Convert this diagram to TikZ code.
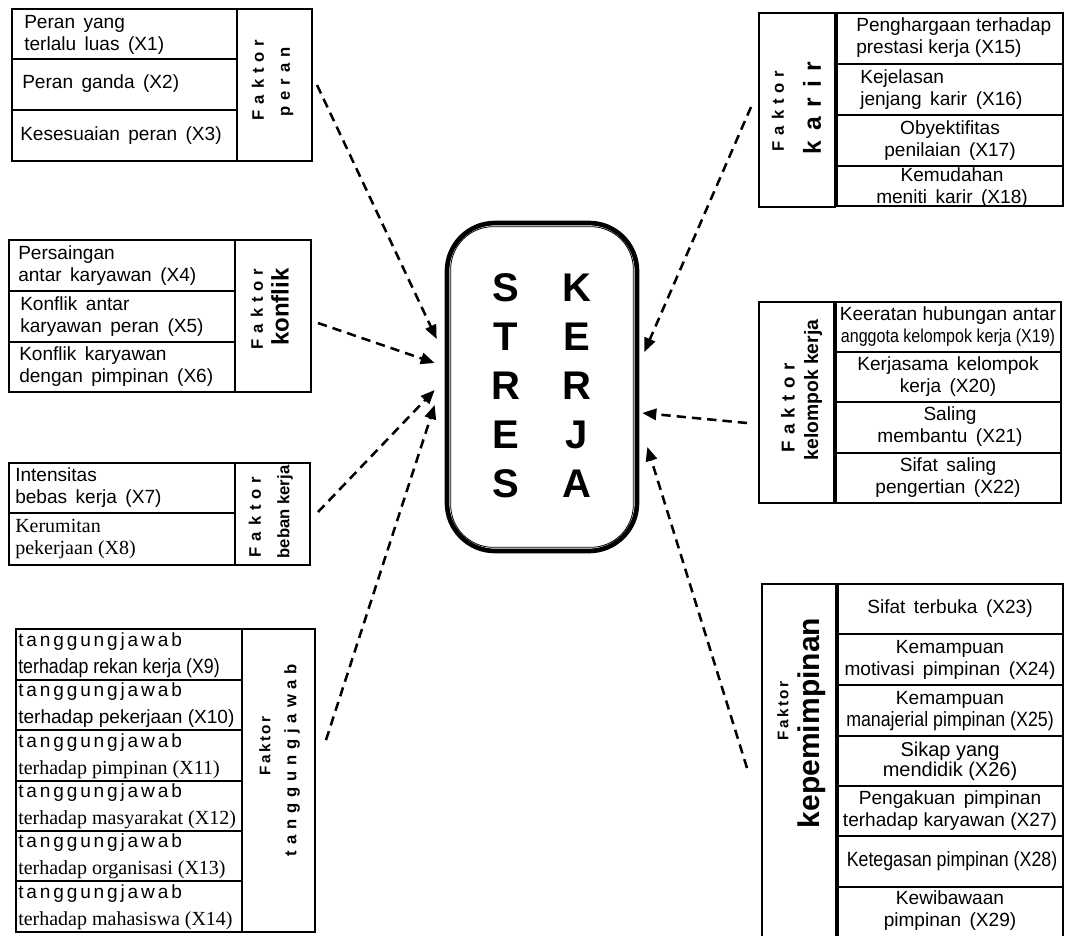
\documentclass[tikz,border=0pt]{standalone}
\usepackage{fontspec}
\setmainfont{Liberation Sans}[WordSpace=1.6]
\newfontfamily\plainfont{Liberation Sans}
\newfontfamily\timesfont{Liberation Serif}
\newfontfamily\narrowfont[FakeStretch=0.86]{Liberation Sans}
\newfontfamily\lsfont[LetterSpace=15]{Liberation Sans}
\newfontfamily\faktorfont[LetterSpace=35, BoldFont={Liberation Sans Bold}]{Liberation Sans}
\newfontfamily\karirfont[LetterSpace=40, BoldFont={Liberation Sans Bold}]{Liberation Sans}
\usetikzlibrary{arrows.meta,positioning,calc}

\tikzset{
    box/.style={draw, line width=0.8pt},
    item/.style={inner sep=0pt, align=left, font=\fontsize{14.3}{16.5}\selectfont},
    itemc/.style={item, align=center},
    tjitem/.style={item, anchor=west, font=\fontsize{14.3}{20}\selectfont},
    faktor/.style={rotate=90, inner sep=0pt, font=\faktorfont\bfseries\fontsize{12.5}{14}\selectfont},
    faktorkecil/.style={rotate=90, inner sep=0pt, font=\lsfont\bfseries\fontsize{11.5}{13}\selectfont},
    jenis/.style={rotate=90, inner sep=0pt, font=\plainfont\bfseries\fontsize{#1}{#1}\selectfont},
    arr/.style={line width=1.9pt, dash pattern=on 7pt off 4.5pt, -{Triangle[length=10.5pt,width=8.5pt]}},
}

\begin{document}
\begin{tikzpicture}[x=0.75pt, y=-0.75pt]
    \path[use as bounding box, fill=white] (0,0) rectangle (1069,935);

    % pusat: stres kerja
    \node[draw, line width=3.5pt, rounded corners=36pt, minimum width=142.5pt, minimum height=246pt] (stres) at (542,387) {};
    \draw[line width=0.6pt, rounded corners=32pt] ($(stres.north west)+(6,6)$) rectangle ($(stres.south east)+(-6,-6)$);
    \node[align=center, font=\bfseries\fontsize{30}{36.75}\selectfont] (kolS) at (506,386) {S\\T\\R\\E\\S};
    \node[align=center, font=\bfseries\fontsize{30}{36.75}\selectfont] (kolK) at (577,386) {K\\E\\R\\J\\A};

    % faktor peran
    \draw[box] (12,9) rectangle (312,161);
    \draw[box] (237,9) -- (237,161);
    \foreach \y in {59,110} \draw[box] (12,\y) -- (237,\y);
    \node[item, anchor=west] (x1) at (24,35) {Peran yang\\terlalu luas (X1)};
    \node[item, anchor=west] (x2) at (22,84) {Peran ganda (X2)};
    \node[item, anchor=west] (x3) at (20,136) {Kesesuaian peran (X3)};
    \node[faktor] (fperan) at (258,80) {Faktor};
    \node[faktor] (peran) at (287,82) {peran};

    % faktor konflik
    \draw[box] (9,240) rectangle (311,392);
    \draw[box] (235,240) -- (235,392);
    \foreach \y in {291,342} \draw[box] (9,\y) -- (235,\y);
    \node[item, anchor=west] (x4) at (18,266) {Persaingan\\antar karyawan (X4)};
    \node[item, anchor=west] (x5) at (20,317) {Konflik antar\\karyawan peran (X5)};
    \node[item, anchor=west] (x6) at (19,367) {Konflik karyawan\\dengan pimpinan (X6)};
    \node[faktor] (fkonflik) at (257,309) {Faktor};
    \node[jenis=18] (konflik) at (280,307) {konflik};

    % faktor beban kerja
    \draw[box] (9,463) rectangle (310,565);
    \draw[box] (235,463) -- (235,565);
    \draw[box] (9,513) -- (235,513);
    \node[item, anchor=west] (x7) at (15,488) {Intensitas\\bebas kerja (X7)};
    \node[item, anchor=west, font=\timesfont\fontsize{15}{16}\selectfont] (x8) at (15,539) {Kerumitan\\pekerjaan (X8)};
    \node[faktor] (fbeban) at (255,517) {Faktor};
    \node[jenis=12.5] (beban) at (285,512) {beban kerja};

    % faktor tanggungjawab
    \draw[box] (16,629) rectangle (315,932);
    \draw[box] (242,629) -- (242,932);
    \foreach \y in {680,730,781,831,881} \draw[box] (16,\y) -- (242,\y);
    \node[tjitem] (x9) at (18,655) {{\lsfont tanggungjawab}\\{\narrowfont\fontsize{15.5}{16}\selectfont terhadap rekan kerja (X9)}};
    \node[tjitem] (x10) at (18,705) {{\lsfont tanggungjawab}\\{\plainfont terhadap pekerjaan (X10)}};
    \node[tjitem] (x11) at (18,756) {{\lsfont tanggungjawab}\\{\timesfont\fontsize{15}{16}\selectfont terhadap pimpinan (X11)}};
    \node[tjitem] (x12) at (18,806) {{\lsfont tanggungjawab}\\{\timesfont\fontsize{15}{16}\selectfont terhadap masyarakat (X12)}};
    \node[tjitem] (x13) at (18,856) {{\lsfont tanggungjawab}\\{\timesfont\fontsize{15}{16}\selectfont terhadap organisasi (X13)}};
    \node[tjitem] (x14) at (18,907) {{\lsfont tanggungjawab}\\{\timesfont\fontsize{15}{16}\selectfont terhadap mahasiswa (X14)}};
    \node[faktorkecil] (ftj) at (265,746) {Faktor};
    \node[faktor] (tj) at (292,760) {tanggungjawab};

    % faktor karir
    \draw[box] (759,13) rectangle (835,207);
    \draw[box] (837,13) rectangle (1063,206);
    \foreach \y in {64,115,166} \draw[box] (837,\y) -- (1063,\y);
    \node[item, anchor=west, font=\plainfont\fontsize{14.3}{16.5}\selectfont] (x15) at (856,38) {Penghargaan terhadap\\prestasi kerja (X15)};
    \node[item, anchor=west] (x16) at (860,90) {Kejelasan\\jenjang karir (X16)};
    \node[itemc] (x17) at (950,141) {Obyektifitas\\penilaian (X17)};
    \node[itemc] (x18) at (952,188) {Kemudahan\\meniti karir (X18)};
    \node[faktor] (fkarir) at (778,111) {Faktor};
    \node[rotate=90, inner sep=0pt, font=\karirfont\bfseries\fontsize{18.5}{18.5}\selectfont] (karir) at (812,108) {karir};

    % faktor kelompok kerja
    \draw[box] (759,302) rectangle (834,503);
    \draw[box] (836,302) rectangle (1061,503);
    \foreach \y in {352,402,453} \draw[box] (836,\y) -- (1061,\y);
    \node[itemc, font=\plainfont\fontsize{14.3}{16.5}\selectfont] (x19) at (948,327) {Keeratan hubungan antar\\{\narrowfont\fontsize{14}{16}\selectfont anggota kelompok kerja (X19)}};
    \node[itemc] (x20) at (948,377) {Kerjasama kelompok\\kerja (X20)};
    \node[itemc] (x21) at (950,427) {Saling\\membantu (X21)};
    \node[itemc] (x22) at (948,478) {Sifat saling\\pengertian (X22)};
    \node[faktor, font=\faktorfont\bfseries\fontsize{14}{14}\selectfont] (fkelompok) at (788,408) {Faktor};
    \node[jenis=14.5] (kelompok) at (813,390) {kelompok kerja};

    % faktor kepemimpinan
    \draw[box] (762,584) rectangle (836,945);
    \draw[box] (838,584) rectangle (1063,945);
    \foreach \y in {634,685,736,786,836,887} \draw[box] (838,\y) -- (1063,\y);
    \node[itemc] (x23) at (950,609) {Sifat terbuka (X23)};
    \node[itemc] (x24) at (950,660) {Kemampuan\\motivasi pimpinan (X24)};
    \node[itemc] (x25) at (950,711) {Kemampuan\\{\narrowfont\fontsize{15.5}{16}\selectfont manajerial pimpinan (X25)}};
    \node[itemc, font=\plainfont\fontsize{15}{15}\selectfont] (x26) at (950,761) {Sikap yang\\mendidik (X26)};
    \node[itemc] (x27) at (950,811) {Pengakuan pimpinan\\{\plainfont terhadap karyawan (X27)}};
    \node[itemc, font=\narrowfont\fontsize{15.5}{16}\selectfont] (x28) at (952,861) {Ketegasan pimpinan (X28)};
    \node[itemc] (x29) at (950,911) {Kewibawaan\\pimpinan (X29)};
    \node[faktorkecil] (fpimpin) at (783,711) {Faktor};
    \node[jenis=22.5] (pimpin) at (812,723) {kepemimpinan};

    % panah ke stres kerja
    \coordinate (s1) at (317,85);
    \coordinate (s2) at (318,323);
    \coordinate (s3) at (318,512);
    \coordinate (s4) at (326,740);
    \coordinate (s5) at (751,107);
    \coordinate (s6) at (747,423);
    \coordinate (s7) at (747,768);
    \draw[arr] (s1) -- ($(stres.west)+(-8,-48)$);
    \draw[arr] (s2) -- ($(stres.west)+(-10,-24)$);
    \draw[arr] (s3) -- ($(stres.west)+(-10,3)$);
    \draw[arr] (s4) -- ($(stres.west)+(-10,18)$);
    \draw[arr] (s5) -- ($(stres.east)+(5,-35)$);
    \draw[arr] (s6) -- ($(stres.east)+(3,26)$);
    \draw[arr] (s7) -- ($(stres.east)+(8,60)$);
\end{tikzpicture}
\end{document}
